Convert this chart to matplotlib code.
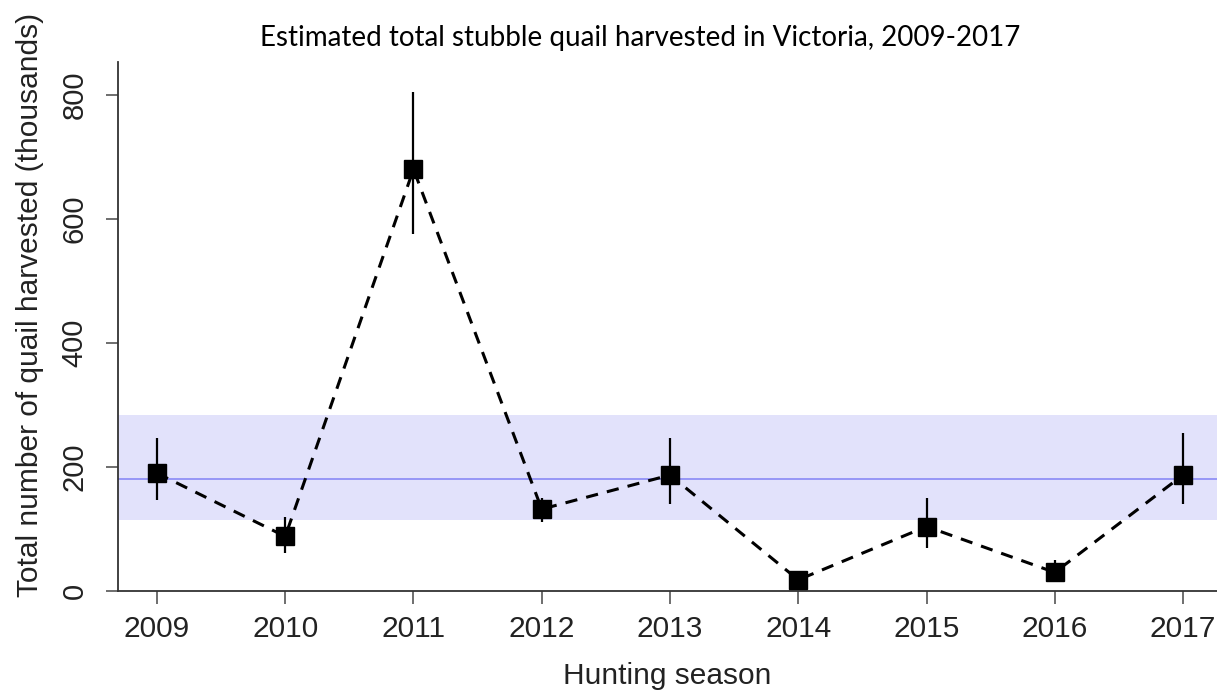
import matplotlib
matplotlib.use("Agg")
import matplotlib.pyplot as plt

years = [2009, 2010, 2011, 2012, 2013, 2014, 2015, 2016, 2017]
harvest = [190, 88, 680, 132, 187, 18, 104, 30, 187]
err_low = [147, 61, 576, 112, 140, 10, 69, 15, 140]
err_high = [247, 120, 804, 150, 247, 25, 150, 50, 254]
mean_harvest = 180
band_low, band_high = 114, 284
yticks = [0, 200, 400, 600, 800]

fig = plt.figure(figsize=(12.17, 6.93), dpi=100)
ax = fig.add_axes([118/1217, 1 - 591/693, 1 - 118/1217, (591-62)/693])

ax.set_xlim(2008.696, 2017.265)
ax.set_ylim(0, 853)

ax.axhspan(band_low, band_high, color="#e2e2fb", lw=0, zorder=0)
ax.axhline(mean_harvest, color="#8282f5", lw=1.1, zorder=1)

ax.vlines(years, err_low, err_high, color="black", lw=1.6, zorder=3)
ax.plot(years, harvest, color="black", ls=(0, (4, 3)), lw=2.2, zorder=2)
ax.plot(years, harvest, ls="none", marker="s", ms=13.5, color="black", zorder=4)

for s in ["top", "right"]:
    ax.spines[s].set_visible(False)
ax.spines["left"].set_linewidth(1.3)
ax.spines["bottom"].set_linewidth(1.3)
ax.spines["left"].set_color("#333333")
ax.spines["bottom"].set_color("#333333")

ax.set_xticks(years)
ax.set_xticklabels([str(y) for y in years], fontsize=21.5, family="Liberation Sans",
                   color="#222222")
ax.set_yticks(yticks)
ax.set_yticklabels([str(v) for v in yticks], fontsize=21, family="Liberation Sans",
                   rotation=90, va="center", color="#222222")
ax.tick_params(axis="both", length=9, width=1.2, color="#555555")
ax.tick_params(axis="x", pad=8)
ax.tick_params(axis="y", pad=12)

fig.text(667/1217, 1 - 676/693, "Hunting season", fontsize=21.5,
         family="Liberation Sans", ha="center", va="center", color="#222222")
fig.text(30/1217, 1 - 305/693, "Total number of quail harvested (thousands)",
         fontsize=21.5, family="Liberation Sans", rotation=90,
         ha="center", va="center", color="#222222")

fig.text(640/1217, 1 - 38/693, "Estimated total stubble quail harvested in Victoria, 2009-2017",
         ha="center", va="center", fontsize=20, family="Lato")

fig.savefig("out.png", dpi=100)
